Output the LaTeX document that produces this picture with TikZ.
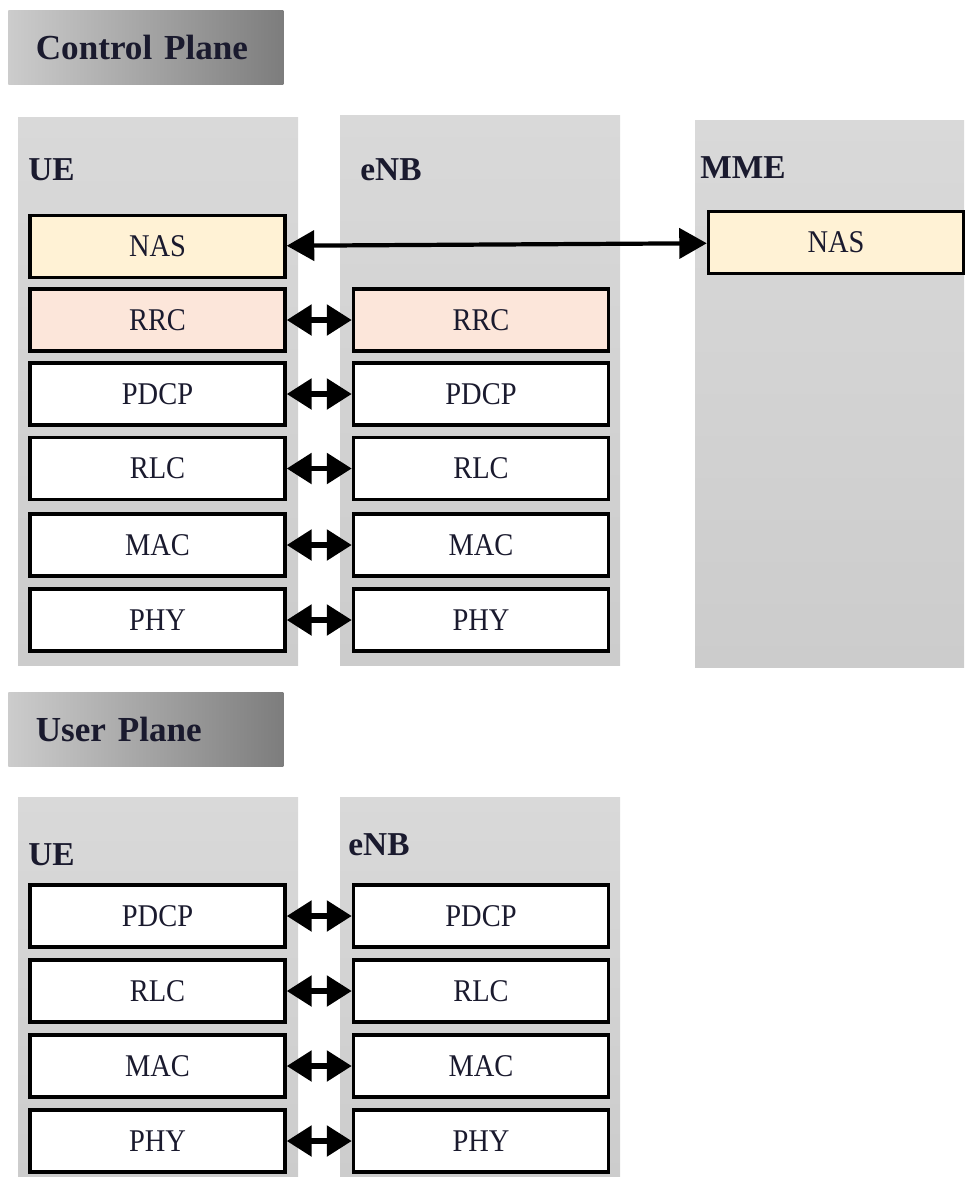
\documentclass[tikz,border=0pt]{standalone}
\usepackage{fontspec}
\setmainfont{Liberation Serif}
\newfontfamily\layerfont{Liberation Serif}[FakeStretch=0.9]
\usetikzlibrary{arrows.meta}
\definecolor{colbg}{HTML}{D9D9D9}
\definecolor{colbgb}{HTML}{CCCCCC}
\definecolor{nasfill}{HTML}{FFF2D5}
\definecolor{rrcfill}{HTML}{FCE6DA}
\definecolor{txtc}{HTML}{1A1A2E}
\begin{document}
\begin{tikzpicture}[x=0.02cm, y=-0.02cm,
    column/.style={top color=colbg, bottom color=colbgb},
    banner/.style={left color=gray!40, right color=gray!98!black, text=txtc,
      font=\fontsize{20}{24}\selectfont\bfseries, text width=4.4cm, align=left,
      inner xsep=0.55cm, minimum height=1.48cm, anchor=north west},
    lbl/.style={text=txtc, font=\fontsize{19}{21}\selectfont\bfseries, anchor=west, inner sep=0pt},
    layer/.style={draw, line width=2pt, fill=white, text=txtc, inner sep=0pt,
      minimum width=5.1cm, minimum height=1.24cm, font=\fontsize{18}{22}\layerfont},
    dbl/.style={line width=3.2pt, {Triangle[length=0.5cm,width=0.6cm]}-{Triangle[length=0.5cm,width=0.6cm]}}]
  \useasboundingbox (0,0) rectangle (964,1177) ;
  % control plane
  \node[banner] (cp) at (8,10) {Control Plane} ;
  \fill[column] (18,117) rectangle (298,665) ;
  \fill[column] (340,115) rectangle (620,665) ;
  \fill[column] (695,120) rectangle (964,667) ;
  \node[lbl] (cp-ue) at (28,170) {UE} ;
  \node[lbl] (cp-enb) at (360,170) {eNB} ;
  \node[lbl] (cp-mme) at (700,168) {MME} ;
  \node[layer, fill=nasfill] (ue-nas) at (157.5,246.5) {NAS} ;
  \node[layer, fill=nasfill] (mme-nas) at (836,242.5) {NAS} ;
  \draw[line width=2.4pt, {Triangle[length=0.55cm,width=0.6cm]}-{Triangle[length=0.55cm,width=0.6cm]}] %
    (ue-nas) -- (mme-nas) ;
  \node[layer, fill=rrcfill] (ue-rrc) at (157.5,320) {RRC} ;
  \node[layer, fill=rrcfill] (enb-rrc) at (481,320) {RRC} ;
  \draw[dbl] (ue-rrc) -- (enb-rrc) ;
  \foreach \nm/\txt/\y in {pdcp/PDCP/394, rlc/RLC/468.5, mac/MAC/545, phy/PHY/620} {
    \node[layer] (ue-\nm) at (157.5,\y) {\txt} ;
    \node[layer] (enb-\nm) at (481,\y) {\txt} ;
    \draw[dbl] (ue-\nm) -- (enb-\nm) ;
  }
  % user plane
  \node[banner] (up) at (8,692) {User Plane} ;
  \fill[column] (18,797) rectangle (298,1177) ;
  \fill[column] (340,797) rectangle (620,1177) ;
  \node[lbl] (up-ue) at (28,855) {UE} ;
  \node[lbl] (up-enb) at (348,845) {eNB} ;
  \foreach \nm/\txt/\y in {pdcp/PDCP/916, rlc/RLC/991, mac/MAC/1066, phy/PHY/1141} {
    \node[layer] (uue-\nm) at (157.5,\y) {\txt} ;
    \node[layer] (uenb-\nm) at (481,\y) {\txt} ;
    \draw[dbl] (uue-\nm) -- (uenb-\nm) ;
  }
\end{tikzpicture}
\end{document}
